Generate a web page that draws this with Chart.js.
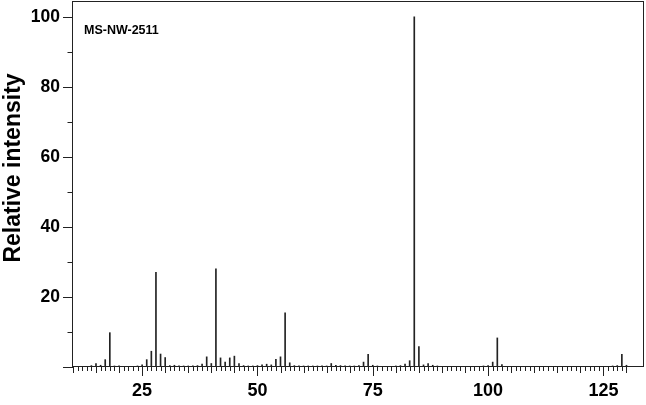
<!DOCTYPE html>
<html>
<head>
<meta charset="utf-8">
<script src="https://cdn.jsdelivr.net/npm/chart.js@4/dist/chart.umd.min.js"></script>
<style>
html, body { margin: 0; padding: 0; background: #fff; }
#wrap { position: relative; width: 646px; height: 405px; }
</style>
</head>
<body>
<div id="wrap"><canvas id="ms"></canvas></div>
<script>
// widmo – m/z i intensywność względna
const mz = [
  14, 15, 16, 17, 18, 19, 20,
  24, 25, 26, 27, 28, 29, 30, 31, 32, 33, 34, 35, 36, 37, 38, 39, 40,
  41, 42, 43, 44, 45, 46, 47, 48, 49, 50, 51, 52, 53, 54, 55, 56, 57, 58,
  59, 60, 61, 62, 63, 64, 65, 66, 67, 68, 69, 70, 71, 72, 73, 74, 75, 76,
  80, 81, 82, 83, 84, 85, 86, 87, 88, 89,
  99, 100, 101, 102, 103,
  127, 128, 129, 130
];
const intensity = [
  0.4, 1.0, 0.5, 2.1, 9.8, 0.3, 0.3,
  0.3, 0.6, 2.1, 4.5, 27.0, 3.7, 2.7, 0.4, 0.5, 0.3, 0.3, 0.3, 0.3, 0.4, 0.8, 2.9, 1.0,
  28.0, 2.6, 1.4, 2.6, 3.1, 1.0, 0.4, 0.3, 0.3, 0.4, 0.6, 0.8, 0.6, 2.2, 2.9, 15.5, 1.2, 0.4,
  0.3, 0.3, 0.3, 0.3, 0.3, 0.3, 0.3, 1.0, 0.5, 0.4, 0.3, 0.3, 0.3, 0.4, 1.4, 3.6, 0.5, 0.3,
  0.3, 0.4, 0.8, 1.8, 100, 5.8, 0.6, 1.0, 0.5, 0.3,
  0.3, 0.4, 1.4, 8.3, 0.7,
  0.3, 0.4, 3.6, 0.5
];
const xTickLabels = [25, 50, 75, 100, 125];
const yTickLabels = [20, 40, 60, 80, 100];
const sampleName = "MS-NW-2511";
const yTitle = "Relative intensity";

const FONT = "'Liberation Sans', Arial, sans-serif";

// bez dodatkowego marginesu na etykiety skrajne
function noPad(s) {
  s.paddingTop = 0; s.paddingBottom = 0;
  s.paddingLeft = 0; s.paddingRight = 0;
}

// ramka, podziałki i napisy
const spectrumFrame = {
  id: 'spectrumFrame',
  afterDatasetsDraw(chart) {
    const { ctx, chartArea: a, scales: { x, y } } = chart;
    ctx.save();
    ctx.strokeStyle = '#222';
    ctx.lineWidth = 1;
    ctx.strokeRect(a.left + 0.5, a.top + 0.5, a.right - a.left - 1, a.bottom - a.top - 1);

    ctx.beginPath();
    for (let m = 10; m <= 130; m++) {
      const px = Math.round(x.getPixelForValue(m)) + 0.5;
      const len = m % 25 === 0 ? 10 : (m % 5 === 0 ? 7 : 5);
      ctx.moveTo(px, a.bottom - 1);
      ctx.lineTo(px, a.bottom - 1 + len);
    }
    for (let v = 0; v <= 100; v += 10) {
      const py = Math.round(y.getPixelForValue(v)) + 0.5;
      const len = v % 20 === 0 ? 9 : 4.5;
      ctx.moveTo(a.left - len, py);
      ctx.lineTo(a.left + 1, py);
    }
    ctx.stroke();

    ctx.fillStyle = '#000';
    ctx.font = "bold 12.5px " + FONT;
    ctx.textBaseline = 'middle';
    ctx.fillText(sampleName, 84, 31);

    ctx.translate(14, 168);
    ctx.rotate(-Math.PI / 2);
    ctx.textAlign = 'center';
    ctx.font = "bold 23px " + FONT;
    ctx.fillText(yTitle, 0, 0);
    ctx.restore();
  }
};

new Chart(document.getElementById('ms'), {
  type: 'bar',
  data: {
    datasets: [{
      data: mz.map((m, i) => ({ x: m, y: intensity[i] })),
      backgroundColor: '#222',
      barThickness: 1,
      grouped: false
    }]
  },
  options: {
    responsive: true,
    maintainAspectRatio: false,
    animation: false,
    layout: { padding: { top: 1, right: 2, left: 0, bottom: 0 } },
    plugins: { legend: { display: false }, tooltip: { enabled: false } },
    scales: {
      x: {
        type: 'linear',
        min: 9.8,
        max: 133.8,
        offset: false,
        afterBuildTicks: s => { s.ticks = xTickLabels.map(v => ({ value: v })); },
        afterFit: s => { s.height = 38; noPad(s); },
        grid: { display: false, drawTicks: false },
        border: { display: false },
        ticks: {
          autoSkip: false,
          maxRotation: 0,
          padding: 13,
          color: '#000',
          font: { family: FONT, size: 18, weight: 'bold' }
        }
      },
      y: {
        min: 0,
        max: 104.5,
        afterBuildTicks: s => { s.ticks = yTickLabels.map(v => ({ value: v })); },
        afterFit: s => { s.width = 72; noPad(s); },
        grid: { display: false, drawTicks: false },
        border: { display: false },
        ticks: {
          padding: 12,
          color: '#000',
          font: { family: FONT, size: 17.5, weight: 'bold' }
        }
      }
    }
  },
  plugins: [spectrumFrame]
});
</script>
</body>
</html>
